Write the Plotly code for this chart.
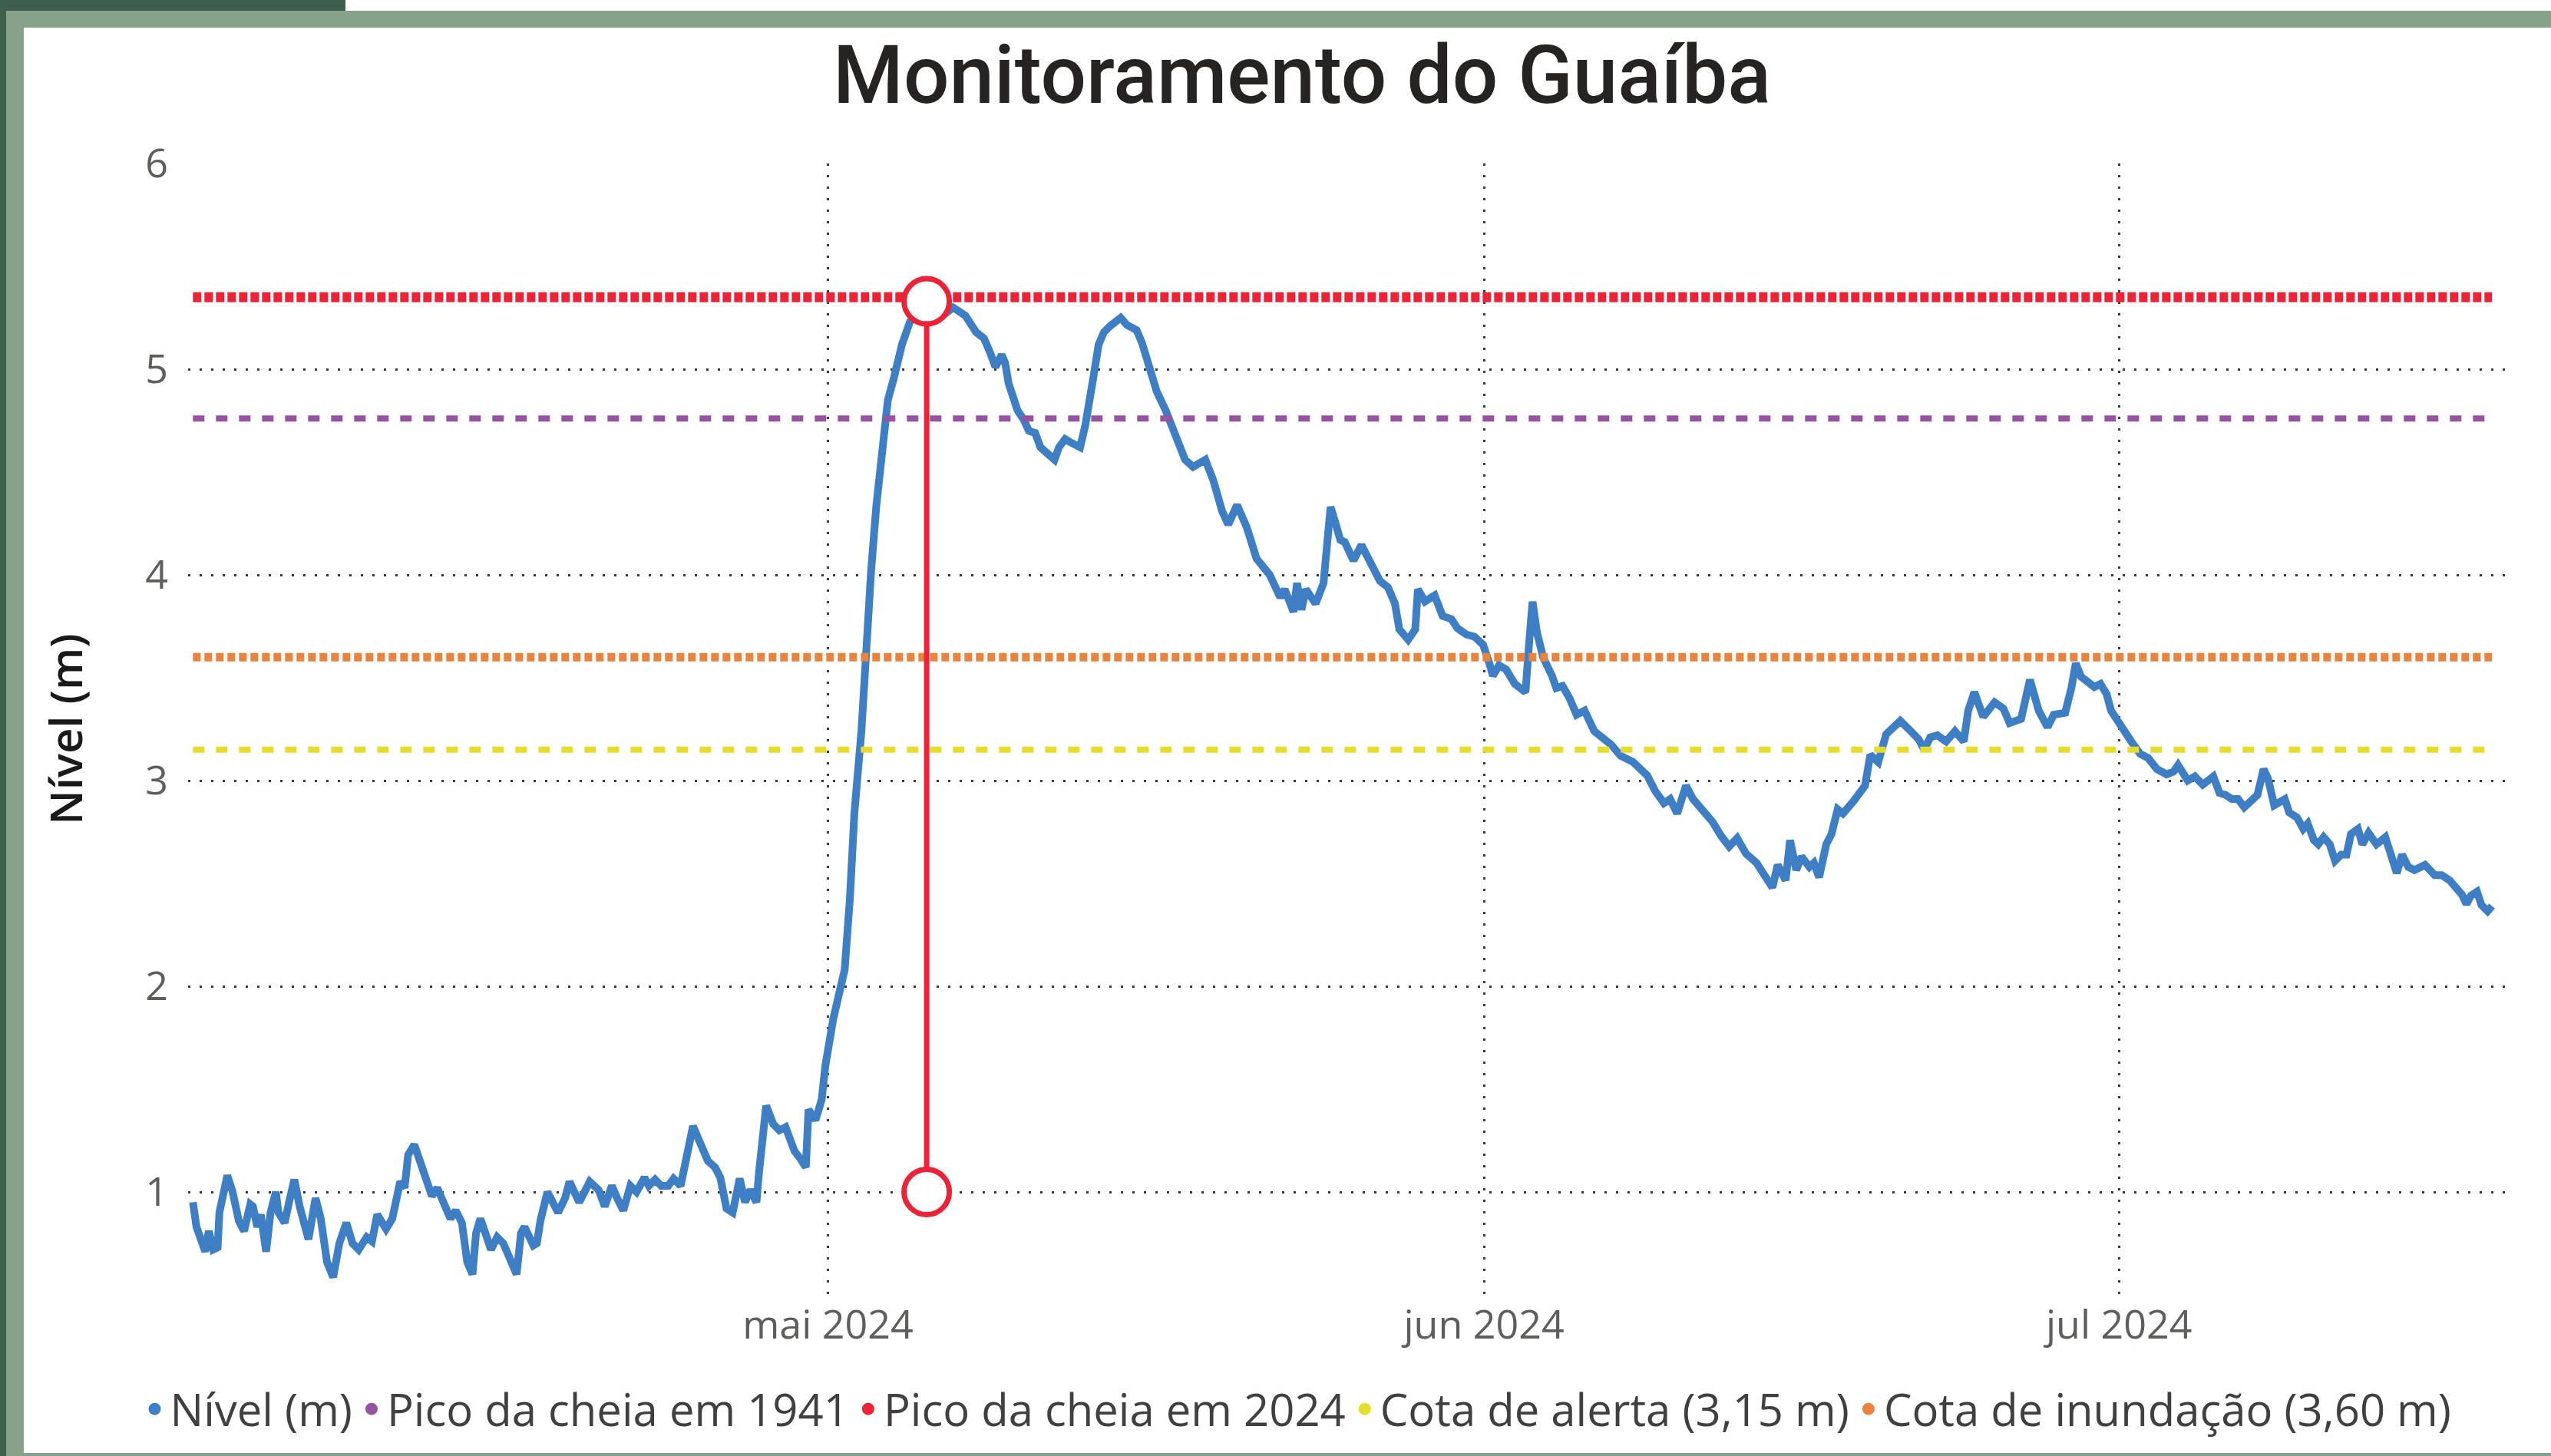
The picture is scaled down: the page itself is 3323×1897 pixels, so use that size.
import plotly.graph_objects as go

# ---------------- data ----------------
timestamps = [
    "2024-04-01 00:00", "2024-04-01 04:00", "2024-04-01 14:00", "2024-04-01 18:00", "2024-04-01 23:00",
    "2024-04-02 04:00", "2024-04-02 06:00", "2024-04-02 15:00", "2024-04-02 21:00", "2024-04-03 04:00",
    "2024-04-03 10:00", "2024-04-03 17:00", "2024-04-03 20:00", "2024-04-04 01:00", "2024-04-04 05:00",
    "2024-04-04 11:00", "2024-04-04 16:00", "2024-04-04 22:00", "2024-04-05 01:00", "2024-04-05 08:00",
    "2024-04-05 13:00", "2024-04-05 19:00", "2024-04-06 01:00", "2024-04-06 11:00", "2024-04-06 19:00",
    "2024-04-07 01:00", "2024-04-07 08:00", "2024-04-07 15:00", "2024-04-07 22:00", "2024-04-08 06:00",
    "2024-04-08 13:00", "2024-04-08 20:00", "2024-04-09 05:00", "2024-04-09 11:00", "2024-04-09 17:00",
    "2024-04-10 03:00", "2024-04-10 10:00", "2024-04-10 19:00", "2024-04-11 00:00", "2024-04-11 04:00",
    "2024-04-11 11:00", "2024-04-11 17:00", "2024-04-11 23:00", "2024-04-12 07:00", "2024-04-12 13:00",
    "2024-04-12 19:00", "2024-04-13 04:00", "2024-04-13 10:00", "2024-04-13 17:00", "2024-04-13 23:00",
    "2024-04-14 05:00", "2024-04-14 09:00", "2024-04-14 14:00", "2024-04-15 02:00", "2024-04-15 09:00",
    "2024-04-15 16:00", "2024-04-16 00:00", "2024-04-16 07:00", "2024-04-16 12:00", "2024-04-16 16:00",
    "2024-04-17 02:00", "2024-04-17 06:00", "2024-04-17 10:00", "2024-04-17 18:00", "2024-04-18 06:00",
    "2024-04-18 14:00", "2024-04-18 19:00", "2024-04-19 06:00", "2024-04-19 18:00", "2024-04-20 04:00",
    "2024-04-20 11:00", "2024-04-20 19:00", "2024-04-21 01:00", "2024-04-21 08:00", "2024-04-21 16:00",
    "2024-04-21 23:00", "2024-04-22 08:00", "2024-04-22 13:00", "2024-04-22 20:00", "2024-04-23 03:00",
    "2024-04-23 11:00", "2024-04-23 17:00", "2024-04-24 01:00", "2024-04-24 08:00", "2024-04-24 15:00",
    "2024-04-24 22:00", "2024-04-25 08:00", "2024-04-25 16:00", "2024-04-25 22:00", "2024-04-26 05:00",
    "2024-04-26 12:00", "2024-04-26 20:00", "2024-04-27 02:00", "2024-04-27 08:00", "2024-04-27 15:00",
    "2024-04-27 18:00", "2024-04-28 02:00", "2024-04-28 10:00", "2024-04-28 17:00", "2024-04-29 00:00",
    "2024-04-29 10:00", "2024-04-29 17:00", "2024-04-29 23:00", "2024-04-30 02:00", "2024-04-30 10:00",
    "2024-04-30 17:00", "2024-04-30 21:00", "2024-05-01 06:00", "2024-05-01 19:00", "2024-05-02 01:00",
    "2024-05-02 06:00", "2024-05-02 14:00", "2024-05-02 19:00", "2024-05-03 01:00", "2024-05-03 07:00",
    "2024-05-03 13:00", "2024-05-03 20:00", "2024-05-04 03:00", "2024-05-04 12:00", "2024-05-04 21:00",
    "2024-05-05 06:00", "2024-05-05 16:00", "2024-05-06 10:00", "2024-05-06 22:00", "2024-05-07 12:00",
    "2024-05-08 00:00", "2024-05-08 09:00", "2024-05-08 16:00", "2024-05-08 22:00", "2024-05-09 05:00",
    "2024-05-09 09:00", "2024-05-09 13:00", "2024-05-09 23:00", "2024-05-10 06:00", "2024-05-10 12:00",
    "2024-05-10 19:00", "2024-05-11 01:00", "2024-05-11 09:00", "2024-05-11 17:00", "2024-05-11 22:00",
    "2024-05-12 05:00", "2024-05-12 13:00", "2024-05-12 22:00", "2024-05-13 04:00", "2024-05-13 09:00",
    "2024-05-13 13:00", "2024-05-13 19:00", "2024-05-14 01:00", "2024-05-14 08:00", "2024-05-14 20:00",
    "2024-05-15 03:00", "2024-05-15 14:00", "2024-05-15 20:00", "2024-05-16 04:00", "2024-05-16 13:00",
    "2024-05-16 23:00", "2024-05-17 06:00", "2024-05-17 14:00", "2024-05-17 21:00", "2024-05-18 06:00",
    "2024-05-18 20:00", "2024-05-19 05:00", "2024-05-19 15:00", "2024-05-19 22:00", "2024-05-20 08:00",
    "2024-05-20 19:00", "2024-05-21 06:00", "2024-05-21 21:00", "2024-05-22 09:00", "2024-05-22 14:00",
    "2024-05-23 00:00", "2024-05-23 04:00", "2024-05-23 09:00", "2024-05-23 14:00", "2024-05-24 01:00",
    "2024-05-24 10:00", "2024-05-24 18:00", "2024-05-24 23:00", "2024-05-25 05:00", "2024-05-25 10:00",
    "2024-05-25 20:00", "2024-05-26 05:00", "2024-05-26 15:00", "2024-05-27 02:00", "2024-05-27 11:00",
    "2024-05-27 19:00", "2024-05-28 00:00", "2024-05-28 10:00", "2024-05-28 18:00", "2024-05-28 21:00",
    "2024-05-29 05:00", "2024-05-29 16:00", "2024-05-30 01:00", "2024-05-30 11:00", "2024-05-30 18:00",
    "2024-05-31 04:00", "2024-05-31 13:00", "2024-05-31 23:00", "2024-06-01 06:00", "2024-06-01 10:00",
    "2024-06-01 17:00", "2024-06-02 01:00", "2024-06-02 11:00", "2024-06-02 23:00", "2024-06-03 03:00",
    "2024-06-03 07:00", "2024-06-03 12:00", "2024-06-03 19:00", "2024-06-04 05:00", "2024-06-04 10:00",
    "2024-06-04 17:00", "2024-06-05 01:00", "2024-06-05 09:00", "2024-06-05 18:00", "2024-06-06 05:00",
    "2024-06-06 15:00", "2024-06-07 00:00", "2024-06-07 11:00", "2024-06-08 01:00", "2024-06-08 17:00",
    "2024-06-09 02:00", "2024-06-09 12:00", "2024-06-09 19:00", "2024-06-10 03:00", "2024-06-10 13:00",
    "2024-06-10 21:00", "2024-06-11 09:00", "2024-06-11 19:00", "2024-06-12 05:00", "2024-06-12 14:00",
    "2024-06-12 23:00", "2024-06-13 09:00", "2024-06-13 21:00", "2024-06-14 07:00", "2024-06-14 15:00",
    "2024-06-14 21:00", "2024-06-15 06:00", "2024-06-15 11:00", "2024-06-15 18:00", "2024-06-16 00:00",
    "2024-06-16 09:00", "2024-06-16 14:00", "2024-06-16 20:00", "2024-06-17 04:00", "2024-06-17 10:00",
    "2024-06-17 17:00", "2024-06-17 23:00", "2024-06-18 11:00", "2024-06-19 00:00", "2024-06-19 06:00",
    "2024-06-19 15:00", "2024-06-20 00:00", "2024-06-20 16:00", "2024-06-21 04:00", "2024-06-21 13:00",
    "2024-06-21 19:00", "2024-06-22 02:00", "2024-06-22 10:00", "2024-06-22 20:00", "2024-06-23 06:00",
    "2024-06-23 16:00", "2024-06-23 21:00", "2024-06-24 04:00", "2024-06-24 14:00", "2024-06-25 03:00",
    "2024-06-25 13:00", "2024-06-25 20:00", "2024-06-26 09:00", "2024-06-26 19:00", "2024-06-27 05:00",
    "2024-06-27 15:00", "2024-06-27 22:00", "2024-06-28 11:00", "2024-06-28 18:00", "2024-06-28 23:00",
    "2024-06-29 05:00", "2024-06-29 13:00", "2024-06-29 20:00", "2024-06-30 03:00", "2024-06-30 10:00",
    "2024-06-30 15:00", "2024-07-01 00:00", "2024-07-01 07:00", "2024-07-01 14:00", "2024-07-02 00:00",
    "2024-07-02 09:00", "2024-07-02 19:00", "2024-07-03 06:00", "2024-07-03 14:00", "2024-07-03 19:00",
    "2024-07-04 06:00", "2024-07-04 14:00", "2024-07-04 23:00", "2024-07-05 11:00", "2024-07-05 18:00",
    "2024-07-06 01:00", "2024-07-06 08:00", "2024-07-06 15:00", "2024-07-06 22:00", "2024-07-07 05:00",
    "2024-07-07 13:00", "2024-07-07 20:00", "2024-07-08 01:00", "2024-07-08 08:00", "2024-07-08 13:00",
    "2024-07-08 20:00", "2024-07-09 01:00", "2024-07-09 10:00", "2024-07-09 17:00", "2024-07-09 22:00",
    "2024-07-10 05:00", "2024-07-10 10:00", "2024-07-10 16:00", "2024-07-10 23:00", "2024-07-11 05:00",
    "2024-07-11 12:00", "2024-07-11 18:00", "2024-07-11 23:00", "2024-07-12 07:00", "2024-07-12 12:00",
    "2024-07-12 19:00", "2024-07-13 04:00", "2024-07-13 14:00", "2024-07-13 21:00", "2024-07-14 03:00",
    "2024-07-14 09:00", "2024-07-14 16:00", "2024-07-14 23:00", "2024-07-15 11:00", "2024-07-15 22:00",
    "2024-07-16 06:00", "2024-07-16 15:00", "2024-07-16 22:00", "2024-07-17 05:00", "2024-07-17 10:00",
    "2024-07-17 15:00", "2024-07-17 22:00", "2024-07-18 03:00", "2024-07-18 10:00", "2024-07-18 15:00",
]

nivel = [
    0.95, 0.83, 0.71, 0.81, 0.72,
    0.73, 0.90, 1.08, 1.00, 0.86,
    0.81, 0.94, 0.93, 0.83, 0.89,
    0.71, 0.90, 1.00, 0.90, 0.85,
    0.95, 1.06, 0.93, 0.77, 0.97,
    0.87, 0.66, 0.585, 0.75, 0.85,
    0.75, 0.72, 0.78, 0.76, 0.89,
    0.82, 0.87, 1.05, 1.02, 1.18,
    1.23, 1.15, 1.08, 0.98, 1.02,
    0.95, 0.87, 0.91, 0.85, 0.66,
    0.60, 0.80, 0.87, 0.72, 0.78,
    0.75, 0.67, 0.60, 0.80, 0.83,
    0.74, 0.75, 0.86, 1.00, 0.90,
    0.97, 1.05, 0.95, 1.05, 1.01,
    0.93, 1.03, 0.97, 0.91, 1.03,
    1.00, 1.07, 1.03, 1.06, 1.03,
    1.03, 1.065, 1.03, 1.18, 1.32,
    1.25, 1.15, 1.12, 1.07, 0.92,
    0.90, 1.065, 0.95, 1.01, 0.95,
    1.10, 1.42, 1.33, 1.30, 1.315,
    1.20, 1.16, 1.12, 1.40, 1.35,
    1.45, 1.61, 1.84, 2.08, 2.43,
    2.84, 3.24, 3.64, 4.02, 4.34,
    4.58, 4.85, 4.96, 5.12, 5.23,
    5.28, 5.32, 5.26, 5.30, 5.26,
    5.18, 5.15, 5.08, 5.01, 5.07,
    5.03, 4.93, 4.80, 4.755, 4.70,
    4.69, 4.62, 4.59, 4.56, 4.62,
    4.66, 4.64, 4.62, 4.73, 4.89,
    4.96, 5.12, 5.18, 5.21, 5.25,
    5.215, 5.19, 5.13, 5.02, 4.89,
    4.80, 4.72, 4.655, 4.56, 4.525,
    4.56, 4.46, 4.31, 4.245, 4.34,
    4.23, 4.08, 4.00, 3.89, 3.93,
    3.82, 3.96, 3.83, 3.93, 3.86,
    3.96, 4.33, 4.26, 4.17, 4.16,
    4.07, 4.145, 4.06, 3.97, 3.94,
    3.86, 3.735, 3.685, 3.735, 3.93,
    3.87, 3.90, 3.80, 3.785, 3.74,
    3.71, 3.70, 3.66, 3.57, 3.51,
    3.56, 3.54, 3.47, 3.43, 3.66,
    3.87, 3.72, 3.60, 3.51, 3.45,
    3.46, 3.40, 3.32, 3.34, 3.24,
    3.21, 3.175, 3.12, 3.09, 3.025,
    2.95, 2.89, 2.91, 2.84, 2.975,
    2.91, 2.85, 2.80, 2.73, 2.68,
    2.72, 2.645, 2.60, 2.53, 2.48,
    2.59, 2.515, 2.71, 2.565, 2.63,
    2.58, 2.60, 2.53, 2.69, 2.74,
    2.86, 2.84, 2.90, 2.975, 3.125,
    3.09, 3.225, 3.29, 3.24, 3.20,
    3.15, 3.21, 3.22, 3.19, 3.24,
    3.19, 3.34, 3.43, 3.31, 3.38,
    3.35, 3.28, 3.30, 3.49, 3.34,
    3.26, 3.32, 3.33, 3.45, 3.57,
    3.505, 3.48, 3.455, 3.47, 3.42,
    3.34, 3.28, 3.225, 3.19, 3.13,
    3.11, 3.056, 3.03, 3.044, 3.075,
    3.00, 3.02, 2.98, 3.02, 2.94,
    2.93, 2.91, 2.91, 2.87, 2.90,
    2.93, 3.056, 3.01, 2.88, 2.89,
    2.91, 2.845, 2.82, 2.765, 2.79,
    2.71, 2.69, 2.725, 2.69, 2.61,
    2.64, 2.64, 2.74, 2.765, 2.69,
    2.745, 2.69, 2.725, 2.64, 2.55,
    2.64, 2.58, 2.565, 2.59, 2.54,
    2.54, 2.515, 2.48, 2.445, 2.40,
    2.44, 2.46, 2.395, 2.365, 2.39,
]

pico_1941 = 4.76
pico_2024 = 5.35
cota_alerta = 3.15
cota_inundacao = 3.60

peak_date = "2024-05-05 16:00"
peak_marker_levels = [1.0, 5.33]

series_names = ["Nível (m)", "Pico da cheia em 1941", "Pico da cheia em 2024",
                "Cota de alerta (3,15 m)", "Cota de inundação (3,60 m)"]
tick_dates = ["2024-05-01", "2024-06-01", "2024-07-01"]
tick_labels = ["mai 2024", "jun 2024", "jul 2024"]
y_ticks = [1, 2, 3, 4, 5, 6]

# ---------------- styling ----------------
BLUE = "#3D7EC4"
PURPLE = "#9653A2"
RED = "#EC2336"
YELLOW = "#E6DC2C"
ORANGE = "#E8843F"
colors = [BLUE, PURPLE, RED, YELLOW, ORANGE]

W, H = 3323, 1897
L, R, T, B = 245, 3268, 213, 1687

def xp(px):
    return (px - L) / (R - L)

def yp(py):
    return (B - py) / (B - T)

span = [timestamps[0], timestamps[-1]]

fig = go.Figure()

fig.add_trace(go.Scatter(x=timestamps, y=nivel, mode="lines",
                         line=dict(color=BLUE, width=10), showlegend=False,
                         name=series_names[0]))

thresholds = [
    (pico_1941, PURPLE, 8, "15px,15px", series_names[1]),
    (pico_2024, RED, 13, "11px,4px", series_names[2]),
    (cota_alerta, YELLOW, 8, "15px,15px", series_names[3]),
    (cota_inundacao, ORANGE, 11, "10px,5px", series_names[4]),
]
for val, col, w, dash, nm in thresholds:
    fig.add_trace(go.Scatter(x=span, y=[val, val], mode="lines",
                             line=dict(color=col, width=w, dash=dash),
                             showlegend=False, name=nm))

fig.add_trace(go.Scatter(x=[peak_date, peak_date], y=peak_marker_levels,
                         mode="lines+markers",
                         line=dict(color=RED, width=7),
                         marker=dict(symbol="circle", size=59, color="white",
                                     line=dict(color=RED, width=7)),
                         showlegend=False))

# legend entries (circle symbols)
for nm, col in zip(series_names, colors):
    fig.add_trace(go.Scatter(x=[None], y=[None], mode="markers", name=nm,
                             marker=dict(symbol="circle", size=26, color=col)))

DARK_GREEN = "#3E5F4B"
LIGHT_GREEN = "#86A38A"
shapes = [
    dict(x0=xp(8), x1=xp(31), y0=yp(14), y1=yp(1897), color=LIGHT_GREEN),
    dict(x0=xp(8), x1=xp(W), y0=yp(14), y1=yp(36), color=LIGHT_GREEN),
    dict(x0=xp(8), x1=xp(W), y0=yp(1893), y1=yp(1897), color=LIGHT_GREEN),
    dict(x0=xp(0), x1=xp(8), y0=yp(0), y1=yp(1897), color=DARK_GREEN),
    dict(x0=xp(0), x1=xp(450), y0=yp(0), y1=yp(14), color=DARK_GREEN),
]
for s in shapes:
    fig.add_shape(type="rect", xref="paper", yref="paper",
                  x0=s["x0"], x1=s["x1"], y0=s["y0"], y1=s["y1"],
                  fillcolor=s["color"], line=dict(width=0), layer="above")

TICK_FONT = dict(family="Open Sans, Noto Sans, sans-serif", size=52, color="#605E5C")

fig.update_layout(
    width=W, height=H,
    margin=dict(l=L, r=W - R, t=T, b=H - B, pad=0),
    paper_bgcolor="white", plot_bgcolor="white",
    title=dict(text="Monitoramento do Guaíba", x=1696 / W, xanchor="center",
               y=1 - 97 / H, yanchor="middle",
               font=dict(family="Roboto, sans-serif", size=105, color="#252423", weight=500)),
    xaxis=dict(type="date",
               range=["2024-03-31 18:30", "2024-07-19 10:00"],
               tickmode="array", tickvals=tick_dates, ticktext=tick_labels,
               showgrid=True, gridcolor="#3a3a3a", gridwidth=3, griddash="3px,12px",
               zeroline=False, showline=False, ticks="",
               tickfont=TICK_FONT, ticklabelstandoff=4),
    yaxis=dict(range=[0.5, 6], tickmode="array", tickvals=y_ticks,
               showgrid=True, gridcolor="#3a3a3a", gridwidth=3, griddash="3px,12px",
               zeroline=False, showline=False, ticks="",
               tickfont=TICK_FONT, ticklabelstandoff=25,
               title=dict(text="Nível (m)", standoff=62,
                          font=dict(family="Open Sans, Noto Sans, sans-serif", size=58,
                                    color="#1a1a1a", weight=600))),
    legend=dict(orientation="h", x=xp(1690), xanchor="center", y=yp(1836), yanchor="middle",
                font=dict(family="Open Sans, Noto Sans, sans-serif", size=58, color="#404040"),
                itemwidth=30, itemsizing="trace", bgcolor="rgba(0,0,0,0)", tracegroupgap=0),
    showlegend=True,
)

fig.write_html("out.html", config={"displayModeBar": False},
               post_script="document.body.style.margin='0';document.body.style.overflow='hidden';")
